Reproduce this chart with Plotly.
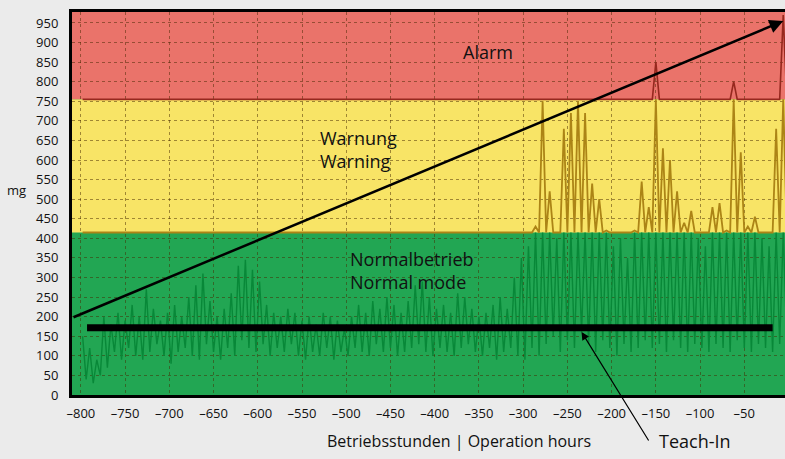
import plotly.graph_objects as go

# ---------------- data ----------------
# sample positions (operating hours before now), one every 4 h
hours = list(range(-798, 0, 4))

# vibration signal (mg), alternating local maxima / minima
signal_mg = [
    150, 40, 120, 30, 90, 50, 200, 70, 180, 110, 210, 90, 190, 120, 230, 100,
    200, 90, 270, 110, 220, 130, 190, 100, 210, 80, 230, 110, 200, 120, 250, 100,
    280, 90, 310, 130, 240, 110, 200, 90, 220, 120, 260, 100, 330, 140, 345, 120,
    320, 110, 290, 130, 230, 100, 210, 120, 200, 110, 220, 130, 210, 100, 190, 90,
    200, 110, 180, 100, 210, 120, 200, 90, 190, 110, 170, 100, 200, 120, 230, 110,
    210, 100, 240, 130, 220, 110, 250, 120, 230, 100, 210, 110, 240, 120, 280, 130,
    290, 110, 250, 100, 220, 120, 230, 110, 210, 100, 260, 120, 250, 130, 220, 110,
    200, 100, 210, 120, 230, 90, 250, 110, 220, 120, 300, 100, 350, 90, 380, 120,
    430, 100, 750, 130, 520, 150, 400, 110, 680, 140, 720, 120, 750, 160, 720, 130,
    540, 110, 500, 140, 420, 120, 380, 100, 400, 130, 350, 110, 420, 120, 545, 140,
    480, 120, 850, 130, 630, 110, 600, 140, 520, 120, 440, 110, 470, 130, 400, 120,
    380, 110, 480, 130, 490, 120, 420, 110, 800, 140, 620, 120, 430, 110, 455, 130,
    400, 120, 380, 110, 680, 130, 970, 140,
]

warning_level = 415
alarm_level = 755
y_top = 978

teach_in_hours = [-793, -18]
teach_in_mg = [172, 172]

trend_hours = [-810, -6]
trend_mg = [197, 955]

x_tickvals = [-800, -750, -700, -650, -600, -550, -500, -450, -400, -350,
              -300, -250, -200, -150, -100, -50]
x_ticktext = ["–800", "–750", "–700", "–650", "–600", "–550", "–500", "–450", "–400",
              "–350", "–300", "–250", "–200", "–150", "–100", "–50"]
y_tickvals = list(range(0, 951, 50))

# ---------------- figure ----------------
FONT = "Open Sans"
GREEN, YELLOW, RED = "#22a653", "#f8e466", "#ea736a"

green_part = [min(v, warning_level) for v in signal_mg]
yellow_part = [min(max(v, warning_level), alarm_level) for v in signal_mg]
red_part = [max(v, alarm_level) for v in signal_mg]

fig = go.Figure()
fig.add_trace(go.Scatter(x=hours, y=green_part, mode="lines",
                         line=dict(color="rgb(8,136,56)", width=1.4), hoverinfo="skip"))
fig.add_trace(go.Scatter(x=hours, y=yellow_part, mode="lines",
                         line=dict(color="rgb(172,132,22)", width=1.8), hoverinfo="skip"))
fig.add_trace(go.Scatter(x=hours, y=red_part, mode="lines",
                         line=dict(color="rgb(150,40,30)", width=1.6), hoverinfo="skip"))
fig.add_trace(go.Scatter(x=teach_in_hours, y=teach_in_mg, mode="lines",
                         line=dict(color="black", width=7), hoverinfo="skip"))

x0, x1 = -810, -4
for lo, hi, col in [(0, warning_level, GREEN), (warning_level, alarm_level, YELLOW),
                    (alarm_level, y_top, RED)]:
    fig.add_shape(type="rect", xref="x", yref="y", x0=x0, x1=x1, y0=lo, y1=hi,
                  fillcolor=col, line_width=0, layer="below")

# trend arrow
fig.add_annotation(x=trend_hours[1], y=trend_mg[1], ax=trend_hours[0], ay=trend_mg[0],
                   xref="x", yref="y", axref="x", ayref="y", text="", showarrow=True,
                   arrowhead=2, arrowsize=1.1, arrowwidth=2.5, arrowcolor="black", standoff=0)

# teach-in arrow + label
fig.add_annotation(x=-234, y=161, xref="x", yref="y", ax=68, ay=110, text="",
                   showarrow=True, arrowhead=2, arrowsize=1.3, arrowwidth=1.2,
                   arrowcolor="black", standoff=0)
fig.add_annotation(x=-149, y=-0.12, xref="x", yref="paper", text="Teach-In",
                   showarrow=False, xanchor="left", yanchor="middle",
                   font=dict(family=FONT, size=18, color="#111"))

fig.add_annotation(x=-340, y=876, xref="x", yref="y", text="Alarm", showarrow=False,
                   font=dict(family=FONT, size=18, color="#111"))
fig.add_annotation(x=-532, y=628, xref="x", yref="y", text="Warnung<br>Warning",
                   showarrow=False, xanchor="left", align="left",
                   font=dict(family=FONT, size=18, color="#111"))
fig.add_annotation(x=-498, y=317, xref="x", yref="y", text="Normalbetrieb<br>Normal mode",
                   showarrow=False, xanchor="left", align="left",
                   font=dict(family=FONT, size=18, color="#111"))
fig.add_annotation(x=-0.0935, y=523, xref="paper", yref="y", text="mg", showarrow=False,
                   font=dict(family=FONT, size=13, color="#111"))
fig.add_annotation(x=-372, y=-0.12, xref="x", yref="paper",
                   text="Betriebsstunden | Operation hours", showarrow=False,
                   yanchor="middle", font=dict(family=FONT, size=16, color="#111"))

fig.update_layout(
    width=785, height=459,
    margin=dict(l=72, r=0, t=12, b=64),
    paper_bgcolor="#ebebeb", plot_bgcolor=GREEN,
    showlegend=False,
    font=dict(family=FONT, size=13, color="#111"),
)
fig.update_xaxes(range=[x0, x1], tickvals=x_tickvals, ticktext=x_ticktext,
                 showgrid=True, gridcolor="rgba(70,40,0,0.5)", griddash="dot", gridwidth=1,
                 showline=True, linecolor="black", linewidth=3, mirror=True,
                 ticks="", ticklabelstandoff=4, zeroline=False)
fig.update_yaxes(range=[0, y_top], tickvals=y_tickvals,
                 showgrid=True, gridcolor="rgba(70,40,0,0.5)", griddash="dot", gridwidth=1,
                 showline=True, linecolor="black", linewidth=3, mirror=False,
                 ticks="", ticklabelstandoff=8, zeroline=False)

fig.write_html(
    "out.html",
    config={"displayModeBar": False},
    post_script="document.body.style.margin='0px';document.body.style.background='#ebebeb';",
)
